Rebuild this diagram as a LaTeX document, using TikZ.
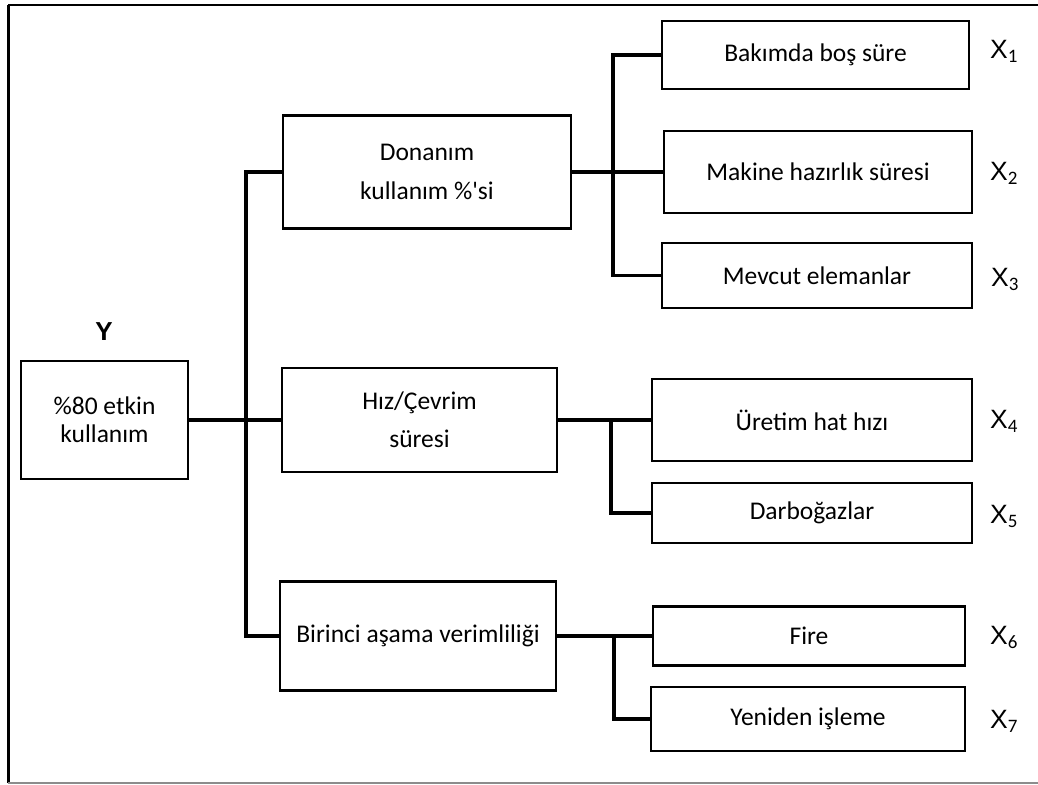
\documentclass[tikz,border=0pt]{standalone}
\usepackage{fontspec}
\setmainfont{Carlito}
\newfontfamily\labelfont{Liberation Sans}
\begin{document}
\begin{tikzpicture}[x=1pt,y=-1pt,
  box/.style={draw=black,line width=2.4pt,rectangle,inner sep=0pt,align=center,
    text=black,font=\fontsize{25.5}{28}\selectfont},
  link/.style={line width=3.3pt,line join=miter,line cap=rect},
  xlabel/.style={anchor=base west,inner sep=0pt,text=black}
]
\useasboundingbox (0,0) rectangle (1038,784);

% outer frame (open on the right)
\draw[line width=2.4pt] (8,5) -- (1038,5);
\draw[line width=3pt] (8,5) -- (8,783);
\draw[line width=2pt,black!45] (8,782.5) -- (1038,782.5);

% root
\node[box,minimum width=167pt,minimum height=118pt] (y) at (104.5,420) {\%80 etkin\\kullanım};
\node[anchor=center,inner sep=0pt,font=\labelfont\bfseries\fontsize{26}{28}\selectfont] (ylab) at (104,332) {Y};

% second level
\node[box,minimum width=288pt,minimum height=113pt,font=\fontsize{25.5}{39}\selectfont] (don) at (427,172) {Donanım\\kullanım \%\textquotesingle si};
\node[box,minimum width=275pt,minimum height=104pt,font=\fontsize{25.5}{38}\selectfont] (hiz) at (419.5,420) {Hız/Çevrim\\süresi};
\node[box,minimum width=276pt,minimum height=109pt] (bir) at (418,636) {Birinci aşama verimliliği};

% third level
\node[box,minimum width=307pt,minimum height=68pt] (x1) at (815.5,55) {Bakımda boş süre};
\node[box,minimum width=308pt,minimum height=82pt] (x2) at (818,172) {Makine hazırlık süresi};
\node[box,minimum width=310pt,minimum height=65pt] (x3) at (817,275.5) {Mevcut elemanlar};
\node[box,minimum width=320pt,minimum height=82pt] (x4) at (812,420) {Üretim hat hızı};
\node[box,minimum width=320pt,minimum height=60pt] (x5) at (812,513) {Darboğazlar};
\node[box,minimum width=312pt,minimum height=59pt] (x6) at (809,636) {Fire};
\node[box,minimum width=314pt,minimum height=64pt] (x7) at (808,719) {Yeniden işleme};

% variable labels
\newcommand{\xvar}[1]{{\labelfont\fontsize{26.5}{28}\selectfont X}\raisebox{-4pt}{\fontsize{19}{20}\selectfont #1}}
\node[xlabel] (l1) at (990,59) {\xvar{1}};
\node[xlabel] (l2) at (990,180) {\xvar{2}};
\node[xlabel] (l3) at (991,286) {\xvar{3}};
\node[xlabel] (l4) at (990,428) {\xvar{4}};
\node[xlabel] (l5) at (990,523) {\xvar{5}};
\node[xlabel] (l6) at (990,644) {\xvar{6}};
\node[xlabel] (l7) at (990,728) {\xvar{7}};

% bus junctions
\coordinate (b0) at (246,420);
\coordinate (b1) at (613,172);
\coordinate (b2) at (611,420);
\coordinate (b3) at (614,636);

% connectors
\draw[link] (y.east) -- (hiz.west);
\draw[link] (don.west) -| (b0) |- (bir.west);

\draw[link] (don.east) -- (x2.west);
\draw[link] (x1.west) -| (b1) |- (x3.west);

\draw[link] (hiz.east) -- (x4.west);
\draw[link] (b2) |- (x5.west);

\draw[link] (bir.east) -- (x6.west);
\draw[link] (b3) |- (x7.west);
\end{tikzpicture}
\end{document}
